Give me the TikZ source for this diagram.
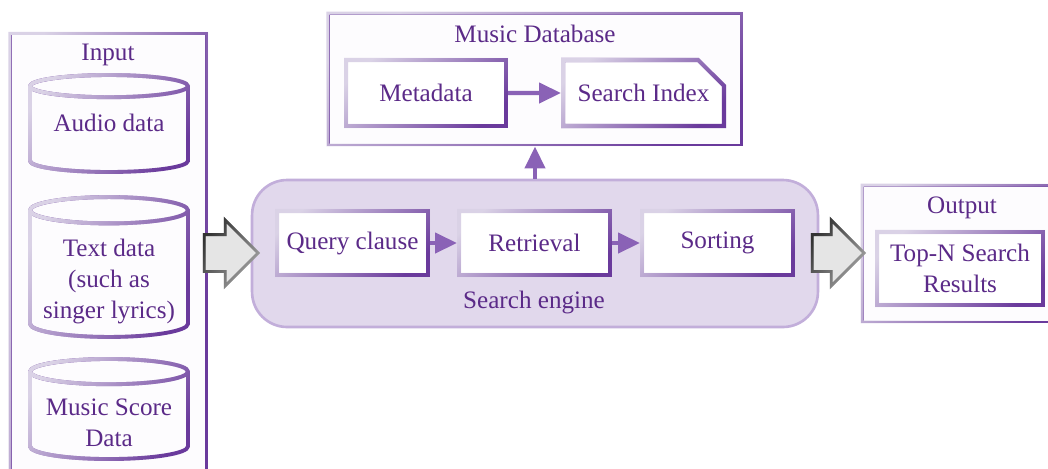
\documentclass[tikz,border=0pt]{standalone}
\usepackage{fontspec}
\setmainfont{Liberation Serif}
\usetikzlibrary{arrows.meta,positioning,shapes.geometric,shapes.misc,shapes.arrows,fadings}

\definecolor{purText}{HTML}{5B2A88}
\definecolor{purDark}{HTML}{6A3A9C}
\definecolor{purLight}{HTML}{DAD2E6}
\definecolor{purArrow}{HTML}{8A62B6}
\definecolor{engFill}{HTML}{E1D8EC}
\definecolor{engLine}{HTML}{C2AEDA}
\definecolor{boxFill}{HTML}{FDFCFE}

% light on the left, fading out to the right
\tikzfading[name=fadeRight, left color=transparent!0, right color=transparent!100]

\begin{document}
\begin{tikzpicture}[
  x=0.02cm, y=-0.02cm,
  font=\fontsize{14.3}{17.6}\selectfont,
  every node/.style={text=purText},
  glow/.style={draw=purDark, postaction={draw=purLight, path fading=fadeRight, fading angle=-25}},
  outbox/.style={rectangle, glow, fill=boxFill, line width=1.7pt, inner sep=0pt},
  inbox/.style={rectangle, glow, fill=white, line width=2.3pt, inner sep=0pt, align=center},
  cyl/.style={cylinder, shape border rotate=90, aspect=0.2, glow, fill=boxFill,
    line width=2.2pt, inner sep=0pt, minimum width=3.16cm, align=center, anchor=shape center},
  blockarr/.style={single arrow, single arrow head extend=0.29cm, minimum height=1.08cm,
    minimum width=1.26cm, inner xsep=0pt, inner ysep=0.34cm, fill=black!10, draw=black!35,
    line width=1.6pt, postaction={draw=black!80, path fading=fadeRight, fading angle=-40}},
  flow/.style={draw=purArrow, line width=2.3pt, -{Triangle[length=12.5pt,width=11.4pt]}},
]
  \useasboundingbox (0,0) rectangle (1048,468);

  % input column
  \node[outbox, minimum width=3.94cm, minimum height=8.94cm] (input) at (108.5,256.5) {};
  \node (inputlbl) at (108,55) {Input};
  \node[cyl, minimum height=1.94cm, text depth=0.28cm] (audio) at (109,123.5) {Audio data};
  \node[cyl, minimum height=2.46cm, text height=1.86cm] (textdata) at (109,267) {Text data\\(such as\\singer lyrics)};
  \node[cyl, minimum height=1.80cm, text height=1.2cm] (score) at (109,409) {Music Score\\Data};

  % database
  \node[outbox, minimum width=8.28cm, minimum height=2.64cm] (db) at (535,79) {};
  \node (dblbl) at (535,34) {Music Database};
  \node[inbox, minimum width=3.2cm, minimum height=1.32cm] (meta) at (426,93) {Metadata};
  \node[inbox, chamfered rectangle, chamfered rectangle corners=north east,
    chamfered rectangle xsep=0.34cm, chamfered rectangle ysep=0.34cm,
    minimum width=3.22cm, minimum height=1.32cm] (index) at (643.5,93) {Search Index};

  % search engine
  \node[draw=engLine, line width=1.5pt, fill=engFill, rounded corners=0.7cm,
    minimum width=11.32cm, minimum height=2.94cm] (engine) at (535,253.5) {};
  \node (englbl) at (534,302) {Search engine};
  \node[inbox, minimum width=3.02cm, minimum height=1.28cm] (query) at (352.5,243) {Query clause};
  \node[inbox, minimum width=3.02cm, minimum height=1.28cm] (retr) at (534.5,243) {Retrieval};
  \node[inbox, minimum width=3.02cm, minimum height=1.28cm] (sort) at (717.5,243) {Sorting};

  % output
  \node[outbox, minimum width=3.96cm, minimum height=2.74cm] (output) at (961,253.5) {};
  \node (outlbl) at (962,208) {Output};
  \node[inbox, minimum width=3.32cm, minimum height=1.46cm] (topn) at (960,268.5) {Top-N Search\\Results};

  \node[blockarr] (inarr) at (222,253) {};
  \node[blockarr, minimum height=1.04cm] (outarr) at (829,253) {};

  \draw[flow] (meta) -- (index);
  \draw[flow] (query) -- (retr);
  \draw[flow] (retr) -- (sort);
  \draw[flow] (engine) -- (db);
\end{tikzpicture}
\end{document}
